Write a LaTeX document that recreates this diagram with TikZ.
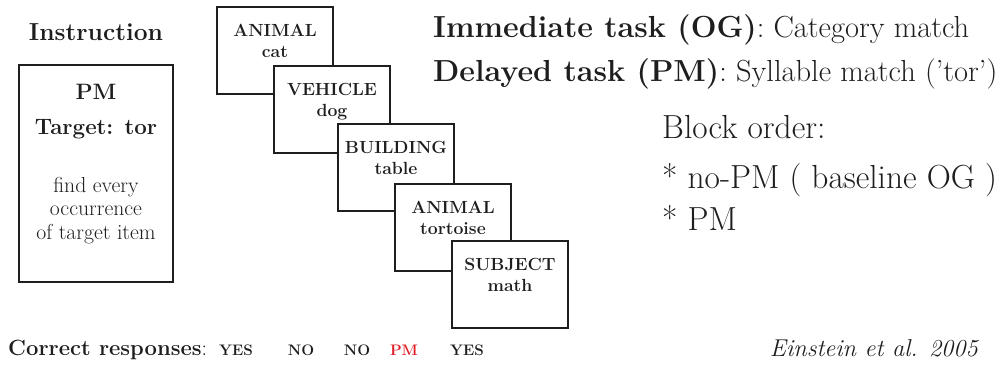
\documentclass[tikz,border=0pt]{standalone}
\usetikzlibrary{positioning}
\definecolor{inkgray}{RGB}{30,30,30}
\definecolor{pmred}{RGB}{226,28,36}

\begin{document}
\begin{tikzpicture}[x=0.03cm,y=-0.03cm,
  card/.style={draw=inkgray,line width=1.4pt,fill=white,minimum width=3.48cm,minimum height=2.61cm,inner sep=0pt},
  cardtext/.style={align=center,inner sep=0pt,text=inkgray,font=\fontsize{15}{18.5}\selectfont\bfseries},
  bigtext/.style={inner sep=0pt,text=inkgray,font=\fontsize{26}{30}\selectfont},
  blocktext/.style={inner sep=0pt,text=inkgray,font=\fontsize{28.5}{32}\selectfont},
  answer/.style={inner sep=0pt,anchor=base,font=\fontsize{13}{15}\selectfont\bfseries,text=inkgray}]
\useasboundingbox (0,0) rectangle (1003,368);

% instruction
\node[draw=inkgray,line width=1.4pt,minimum width=4.62cm,minimum height=6.51cm,inner sep=0pt] (instr) at (96,173.5) {};
\node[inner sep=0pt,anchor=south,text=inkgray,font=\fontsize{21}{24}\selectfont\bfseries,above=19.5pt of instr.north] (instrhead) {Instruction};
\node[inner sep=0pt,align=center,text=inkgray,font=\fontsize{19}{30}\selectfont\bfseries,below=17pt of instr.north] (pmtarget) {PM\\Target: tor};
\node[inner sep=0pt,align=center,text=inkgray,font=\fontsize{18.5}{20}\selectfont,below=32pt of pmtarget] (pmnote) {find every\\occurrence\\of target item};

% trials
\node[card] (trial1) at (275,50.5) {};
\node[cardtext,below=15pt of trial1.north] (word1) {ANIMAL\\cat};
\node[card] (trial2) at (332,109.5) {};
\node[cardtext,below=15pt of trial2.north] (word2) {VEHICLE\\dog};
\node[card] (trial3) at (396,167.5) {};
\node[cardtext,below=15pt of trial3.north] (word3) {BUILDING\\table};
\node[card] (trial4) at (453,227.5) {};
\node[cardtext,below=15pt of trial4.north] (word4) {ANIMAL\\tortoise};
\node[card] (trial5) at (510,284.5) {};
\node[cardtext,below=15pt of trial5.north] (word5) {SUBJECT\\math};

% tasks
\node[bigtext,anchor=base west] (ogtask) at (433,38) {\textbf{Immediate task (OG)}: Category match};
\node[bigtext,anchor=base west] (pmtask) at (433,82) {\textbf{Delayed task (PM)}: Syllable match ('tor')};
\node[blocktext,anchor=base west] (blockhead) at (662,138) {Block order:};
\node[blocktext,anchor=base west] (blocknopm) at (662,188) {* no-PM ( baseline OG )};
\node[blocktext,anchor=base west] (blockpm) at (662,230) {* PM};

% responses
\node[inner sep=0pt,anchor=base west,text=inkgray,font=\fontsize{18.8}{22}\selectfont] (resphead) at (8,355) {\textbf{Correct responses}:};
\node[answer] (resp1) at (236,355) {YES};
\node[answer] (resp2) at (301,355) {NO};
\node[answer] (resp3) at (357,355) {NO};
\node[answer,text=pmred] (resp4) at (404,355) {PM};
\node[answer] (resp5) at (467,355) {YES};

\node[inner sep=0pt,anchor=base east,text=inkgray,font=\fontsize{20.8}{24}\selectfont\itshape] (source) at (978,356) {Einstein et al. 2005};
\end{tikzpicture}
\end{document}
